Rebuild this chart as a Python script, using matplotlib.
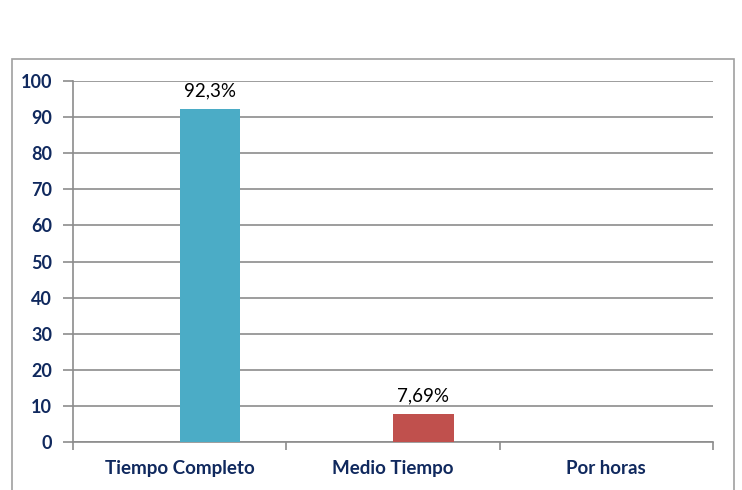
import matplotlib.pyplot as plt
from matplotlib.patches import Rectangle

# datos
categorias = ["Tiempo Completo", "Medio Tiempo", "Por horas"]
valores = [92.3, 7.69, 0]
etiquetas = ["92,3%", "7,69%", ""]
colores = ["#4BACC6", "#C0504D", "#9BBB59"]
yticks = [0, 10, 20, 30, 40, 50, 60, 70, 80, 90, 100]

AZUL = "#10295E"
GRIS = "#8C8C8C"

fig = plt.figure(figsize=(7.42, 4.90), dpi=100)
ax = fig.add_axes([73 / 742, 1 - 442 / 490, 640 / 742, 361 / 490])

# marco exterior del grafico
fig.patches.append(Rectangle((12 / 742, -0.05), 722 / 742, 1.05 - 59 / 490,
                             transform=fig.transFigure, fill=False,
                             edgecolor="#A0A0A0", linewidth=1.2))

ancho = 0.285
x = list(range(len(categorias)))
pos = [i + ancho / 2 for i in x]
ax.bar(pos, valores, width=ancho, color=colores, zorder=3)

for p, v, t in zip(pos, valores, etiquetas):
    if t:
        ax.annotate(t, (p, v), xytext=(0, 7), textcoords="offset points",
                    ha="center", va="bottom", fontsize=13.5, color="black",
                    family="Lato")

ax.set_ylim(0, 100)
ax.set_xlim(-0.5, 2.5)
ax.set_yticks(yticks)
ax.set_yticklabels([str(t) for t in yticks], fontsize=13, fontweight="bold",
                   color=AZUL, family="Lato")
ax.set_xticks(x)
ax.set_xticklabels(categorias, fontsize=13.5, fontweight="bold", color=AZUL,
                   family="Lato")
ax.tick_params(axis="x", length=0, pad=13)
ax.tick_params(axis="y", length=7, color=GRIS, width=1.2, pad=8)

# marcas de categoria en el eje x
ax.set_xticks([-0.5, 0.5, 1.5, 2.5], minor=True)
ax.tick_params(axis="x", which="minor", length=6, color=GRIS, width=1.2)

ax.grid(axis="y", color=GRIS, linewidth=1.2, zorder=0)
for s in ["top", "right"]:
    ax.spines[s].set_visible(False)
ax.spines["left"].set_color(GRIS)
ax.spines["bottom"].set_color(GRIS)
ax.spines["left"].set_linewidth(1.2)
ax.spines["bottom"].set_linewidth(1.2)

plt.savefig("out.png", dpi=100)
